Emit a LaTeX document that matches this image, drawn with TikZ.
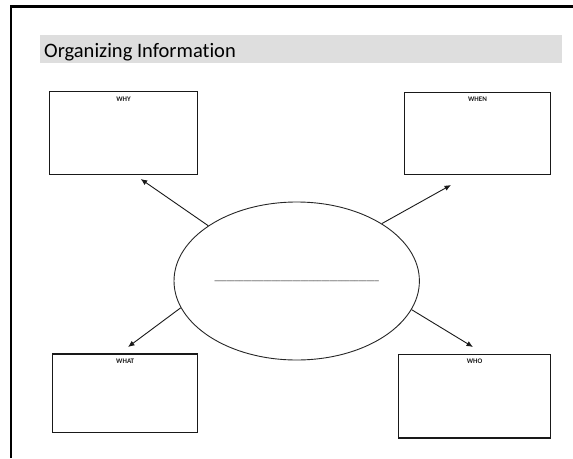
\documentclass[tikz,border=0pt]{standalone}
\usepackage{fontspec}
\setmainfont{Carlito}[Ligatures=NoCommon]
\usetikzlibrary{shapes.geometric}
\usetikzlibrary{arrows.meta}

\begin{document}
\begin{tikzpicture}[x=1pt,y=-1pt,
	box/.style={rectangle,draw=black!90,line width=1.3pt,inner sep=0pt},
	tag/.style={font=\fontsize{7}{8}\selectfont\bfseries,text=black!90,inner sep=0pt,anchor=north,yshift=-5.5pt},
	link/.style={line width=0.9pt,black!90,-{Latex[length=6.5pt,width=5.5pt]}}]
		\useasboundingbox (0,0) rectangle (573,458);
		\draw [line width=2.4pt] (11,458) -- (11,6.5) -- (573,6.5);
		\fill [black!13] (40,35) rectangle (562,63);
		\path (44,57) node(title)[anchor=base west,inner sep=0pt,font=\fontsize{20.5}{24}\selectfont]{Organizing Information}
		(296.7,281) node(topic)[ellipse,draw=black!85,line width=0.9pt,inner sep=0pt,minimum width=245.4pt,minimum height=158pt,font=\fontsize{8.25}{10}\selectfont]{\_\_\_\_\_\_\_\_\_\_\_\_\_\_\_\_\_\_\_\_\_\_\_\_\_\_\_\_\_\_\_\_\_\_\_\_\_\_\_\_}
		(123.5,133) node(why)[box,minimum width=148.4pt,minimum height=82.6pt,label={[tag]north:WHY}]{}
		(477.5,133.3) node(when)[box,minimum width=146.4pt,minimum height=82pt,label={[tag]north:WHEN}]{}
		(125.2,393.4) node(what)[box,minimum width=145pt,minimum height=78.7pt,label={[tag]north:WHAT}]{}
		(474.5,396) node(who)[box,minimum width=152.4pt,minimum height=83.7pt,label={[tag]north:WHO}]{};
		\coordinate (whytip) at (140.7,179);
		\coordinate (whentip) at (451,185);
		\coordinate (whattip) at (128,347);
		\coordinate (whotip) at (473,347);
		\draw [link] (topic.148) to (whytip);
		\draw [link] (topic.34) to (whentip);
		\draw [link] (topic.193) to (whattip);
		\draw [link] (topic.346) to (whotip);
	\end{tikzpicture}
\end{document}
